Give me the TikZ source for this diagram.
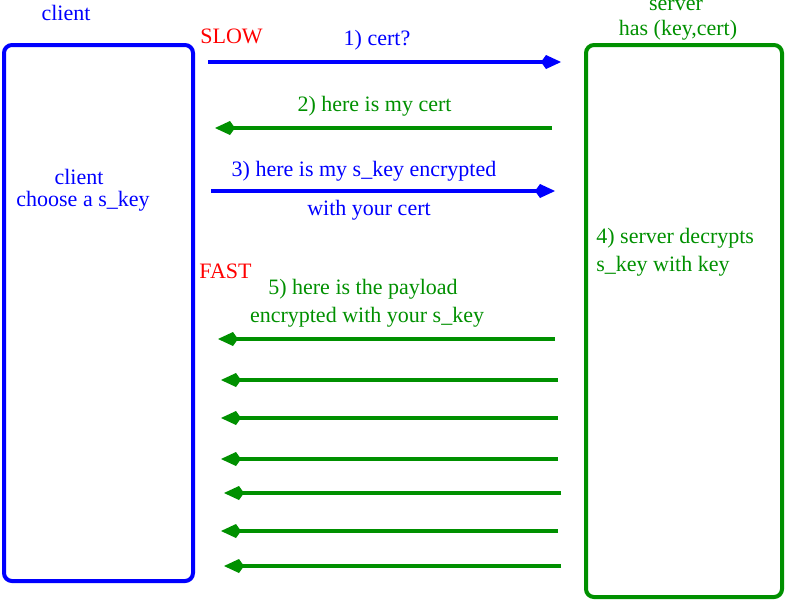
\documentclass[tikz,border=0pt]{standalone}
\usepackage{fontspec}
\setmainfont{Liberation Serif}
\usetikzlibrary{positioning}
\usetikzlibrary{fit}
\usetikzlibrary{arrows.meta}
\definecolor{figblue}{RGB}{0,0,255}
\definecolor{figgreen}{RGB}{0,144,0}
\definecolor{figred}{RGB}{255,0,0}
\tikzset{
	lbl/.style={anchor=base, inner sep=0pt, font=\fontsize{11}{13}\selectfont},
	lblleft/.style={lbl, anchor=base west},
	party/.style={draw, line width=2pt, rounded corners=4pt, inner sep=0pt},
	msg/.style={line width=1.7pt, -{Kite[length=10pt,width=7pt,inset=2.5pt]}},
}
\begin{document}
\begin{tikzpicture}[x=0.5pt,y=-0.5pt]
			\useasboundingbox (0,0) rectangle (786,601);
			\coordinate (c1) at (4,45) ; \coordinate (c2) at (193,581) ;
			\coordinate (s1) at (586,45) ; \coordinate (s2) at (782,597) ;
			\node (client) [fit=(c1) (c2), party, draw=figblue] {};
			\node (server) [fit=(s1) (s2), party, draw=figgreen] {};
			\node at (66,20) (cname) [lbl, figblue] {client};
			\node at (79,184) (cinfo) [lbl, figblue] {client};
			\node at (83,206.7) (cchoose) [lbl, figblue] {choose a s\_key};
			\node at (676,10) (sname) [lbl, figgreen] {server};
			\node at (678,35) (shas) [lbl, figgreen] {has (key,cert)};
			\node at (596,243.3) (sdec1) [lblleft, figgreen] {4) server decrypts};
			\node at (596,271.7) (sdec2) [lblleft, figgreen] {s\_key with key};
			\node at (200,43.3) (slow) [lblleft, figred] {SLOW};
			\node at (199,278.3) (fast) [lblleft, figred] {FAST};
			% handshake
			\node at (377,45) (m1) [lbl, figblue] {1) cert?};
			\node at (374.5,111.7) (m2) [lbl, figgreen] {2) here is my cert};
			\node at (364,176.7) (m3a) [lbl, figblue] {3) here is my s\_key encrypted};
			\node at (369,215) (m3b) [lbl, figblue] {with your cert};
			\coordinate (m1s) at (208,62) ; \coordinate (m1e) at (561,62) ;
			\coordinate (m2s) at (552,128) ; \coordinate (m2e) at (215,128) ;
			\coordinate (m3s) at (211,191) ; \coordinate (m3e) at (555,191) ;
			\draw [msg, figblue] (m1s) -- (m1e);
			\draw [msg, figgreen] (m2s) -- (m2e);
			\draw [msg, figblue] (m3s) -- (m3e);
			% payload
			\node at (363,294.3) (m5a) [lbl, figgreen] {5) here is the payload};
			\node at (367,322.7) (m5b) [lbl, figgreen] {encrypted with your s\_key};
			\coordinate (p1s) at (555,339) ; \coordinate (p1e) at (218,339) ;
			\coordinate (p2s) at (558,380) ; \coordinate (p2e) at (221,380) ;
			\coordinate (p3s) at (558,418) ; \coordinate (p3e) at (221,418) ;
			\coordinate (p4s) at (558,459) ; \coordinate (p4e) at (221,459) ;
			\coordinate (p5s) at (561,493) ; \coordinate (p5e) at (224,493) ;
			\coordinate (p6s) at (558,531) ; \coordinate (p6e) at (221,531) ;
			\coordinate (p7s) at (561,566) ; \coordinate (p7e) at (224,566) ;
			\draw [msg, figgreen] (p1s) -- (p1e); \draw [msg, figgreen] (p2s) -- (p2e);
			\draw [msg, figgreen] (p3s) -- (p3e); \draw [msg, figgreen] (p4s) -- (p4e);
			\draw [msg, figgreen] (p5s) -- (p5e); \draw [msg, figgreen] (p6s) -- (p6e);
			\draw [msg, figgreen] (p7s) -- (p7e);
\end{tikzpicture}
\end{document}
